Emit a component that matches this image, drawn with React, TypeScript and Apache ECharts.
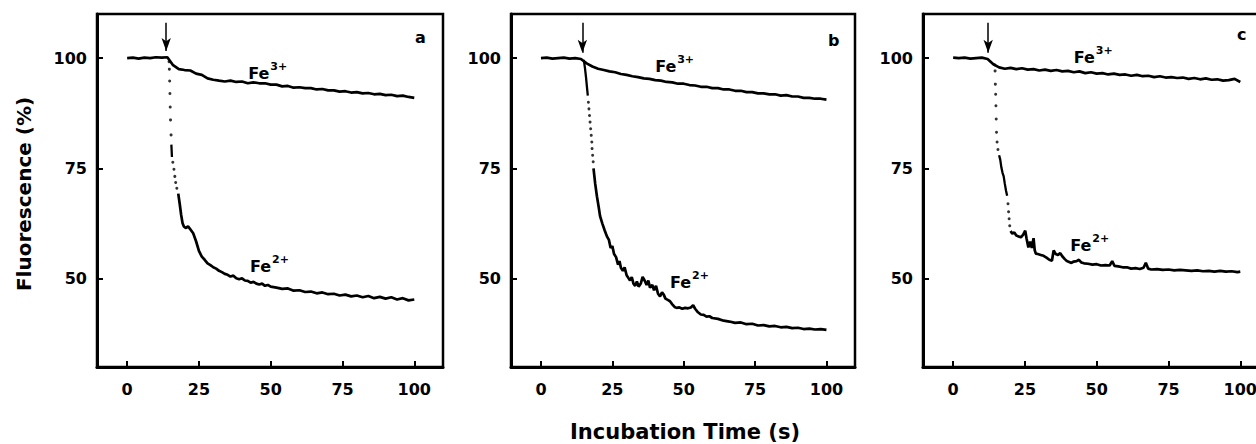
import React, { useEffect, useRef } from "react";
import * as echarts from "echarts";

const FONT = "DejaVu Sans";
const X_TICKS = [0, 25, 50, 75, 100];
const Y_TICKS = [50, 75, 100];
const PANEL_LETTERS = ["a", "b", "c"];

const TIME = [0, 2, 4, 6, 8, 10, 12, 14, 16, 18, 20, 22, 24, 26, 28, 30, 32, 34, 36, 38, 40, 42, 44, 46, 48, 50, 52, 54, 56, 58, 60, 62, 64, 66, 68, 70, 72, 74, 76, 78, 80, 82, 84, 86, 88, 90, 92, 94, 96, 98, 100];

const FE3_A = [100.0, 100.1, 99.9, 100.1, 100.0, 100.2, 100.1, 100.2, 98.4, 97.5, 97.3, 97.2, 96.5, 96.2, 95.4, 95.1, 94.9, 94.7, 94.9, 94.6, 94.7, 94.3, 94.5, 94.3, 94.3, 94.0, 94.0, 93.6, 93.7, 93.3, 93.4, 93.2, 93.2, 92.9, 93.0, 92.7, 92.7, 92.4, 92.5, 92.2, 92.3, 92.0, 92.1, 91.8, 91.9, 91.6, 91.7, 91.4, 91.5, 91.2, 91.0];
const FE3_B = [100.0, 100.1, 99.9, 100.0, 100.1, 99.9, 100.0, 99.8, 98.8, 98.1, 97.6, 97.3, 97.0, 96.8, 96.4, 96.2, 95.9, 95.7, 95.4, 95.3, 95.0, 94.9, 94.6, 94.5, 94.2, 94.2, 93.9, 93.8, 93.5, 93.5, 93.2, 93.2, 92.9, 92.9, 92.6, 92.6, 92.3, 92.3, 92.0, 92.0, 91.8, 91.8, 91.5, 91.6, 91.3, 91.3, 91.0, 91.0, 90.8, 90.8, 90.6];
const FE3_C = [100.1, 100.0, 100.1, 99.9, 100.0, 100.1, 99.8, 98.6, 97.9, 97.6, 97.8, 97.5, 97.7, 97.4, 97.5, 97.2, 97.4, 97.1, 97.3, 97.0, 97.1, 96.8, 97.0, 96.6, 96.8, 96.5, 96.6, 96.3, 96.5, 96.2, 96.3, 96.0, 96.2, 95.9, 96.0, 95.7, 95.9, 95.6, 95.7, 95.5, 95.6, 95.3, 95.5, 95.2, 95.4, 95.1, 95.2, 94.9, 95.0, 95.3, 94.6];

const FE2_A_DOTS = [[14.6, 99.2], [14.7, 97.5], [14.8, 94.8], [14.9, 92.0], [15.0, 88.9], [15.1, 86.0], [15.3, 82.6], [15.9, 76.4], [16.3, 74.8], [16.6, 73.2], [16.9, 71.8], [17.3, 70.5]];
const FE2_A_STUB = [[15.4, 80.4], [15.5, 79.0], [15.6, 77.6]];
const FE2_A_LINE = [[17.8, 69.3], [18.3, 67.0], [18.8, 64.5], [19.3, 62.6], [19.8, 61.8], [20.5, 61.5], [21.2, 61.9], [22.0, 61.2], [23.0, 60.3], [24.0, 58.5], [25.0, 56.3], [26.0, 55.0], [27.0, 54.3], [28.0, 53.5], [29.0, 53.1], [30.0, 52.6], [31.0, 52.3], [32.0, 51.8], [33.0, 51.5], [34.0, 51.1], [35.0, 50.9], [36.0, 50.5], [37.0, 50.7], [38.0, 50.1], [39.0, 49.9], [40.0, 50.1], [41.0, 49.6], [42.0, 49.5], [43.0, 49.1], [44.0, 49.3], [45.0, 48.9], [46.0, 48.7], [47.0, 48.9], [48.0, 48.4], [49.0, 48.6], [50.0, 48.2], [52.0, 48.0], [54.0, 47.7], [56.0, 47.8], [58.0, 47.3], [60.0, 47.4], [62.0, 47.0], [64.0, 47.1], [66.0, 46.7], [68.0, 46.9], [70.0, 46.5], [72.0, 46.6], [74.0, 46.2], [76.0, 46.4], [78.0, 46.0], [80.0, 46.2], [82.0, 45.8], [84.0, 46.1], [86.0, 45.6], [88.0, 45.9], [90.0, 45.5], [92.0, 45.8], [94.0, 45.3], [96.0, 45.6], [98.0, 45.1], [100.0, 45.3]];

const FE2_B_STUB = [[15.0, 99.6], [15.4, 97.8], [15.8, 95.5], [16.1, 93.5], [16.4, 91.5]];
const FE2_B_DOTS = [[16.6, 90.0], [16.8, 88.5], [17.0, 87.0], [17.2, 85.5], [17.4, 84.0], [17.6, 82.5], [17.8, 81.0], [17.9, 79.5], [18.1, 78.0], [18.3, 76.5]];
const FE2_B_LINE = [[18.4, 75.0], [19.0, 71.5], [19.6, 68.7], [20.2, 66.3], [20.7, 64.2], [21.5, 62.5], [22.3, 61.0], [23.1, 59.6], [23.8, 58.8], [24.4, 57.0], [25.0, 57.4], [25.6, 55.6], [26.3, 54.9], [27.0, 53.2], [27.5, 54.0], [28.0, 52.5], [28.7, 51.8], [29.3, 52.6], [30.0, 50.8], [30.6, 50.2], [31.2, 49.6], [31.8, 50.4], [32.4, 48.9], [33.0, 48.4], [33.6, 49.4], [34.2, 48.2], [35.0, 49.0], [35.6, 50.4], [36.3, 49.6], [37.0, 48.6], [37.6, 49.6], [38.2, 48.0], [39.0, 48.6], [39.6, 47.4], [40.3, 48.4], [41.0, 46.6], [41.7, 46.0], [42.4, 46.9], [43.0, 46.4], [43.6, 45.5], [44.4, 45.2], [45.2, 44.9], [46.0, 44.2], [46.8, 43.6], [47.5, 43.4], [48.5, 43.5], [49.5, 43.2], [50.5, 43.4], [51.5, 43.3], [52.5, 43.5], [53.3, 44.0], [54.0, 43.2], [55.0, 42.4], [56.0, 41.9], [57.0, 41.8], [58.0, 41.4], [59.0, 41.5], [60.0, 41.1], [62.0, 40.9], [64.0, 40.5], [66.0, 40.3], [68.0, 40.0], [70.0, 40.1], [72.0, 39.7], [74.0, 39.8], [76.0, 39.4], [78.0, 39.5], [80.0, 39.2], [82.0, 39.3], [84.0, 39.0], [86.0, 39.1], [88.0, 38.8], [90.0, 38.9], [92.0, 38.6], [94.0, 38.7], [96.0, 38.5], [98.0, 38.6], [100.0, 38.4]];

const FE2_C_DOTS = [[14.4, 98.5], [14.6, 97.1], [14.7, 94.1], [14.8, 91.8], [14.9, 89.2], [15.0, 86.2], [15.1, 83.2], [15.3, 81.0], [15.6, 79.3], [19.1, 67.0], [19.3, 65.2], [19.5, 63.6], [19.7, 62.0]];
const FE2_C_STUB = [[16.0, 78.0], [16.4, 77.0], [16.8, 75.2], [17.2, 74.0], [17.6, 73.2], [18.0, 71.5], [18.4, 70.0], [18.8, 68.8]];
const FE2_C_LINE = [[20.0, 60.8], [20.6, 60.2], [21.3, 60.5], [22.0, 59.8], [22.8, 59.6], [23.6, 59.4], [24.4, 60.0], [25.1, 60.9], [25.6, 59.0], [26.2, 57.1], [26.8, 58.4], [27.4, 57.0], [28.0, 59.2], [28.4, 56.5], [28.8, 55.7], [29.5, 55.6], [30.5, 55.4], [31.5, 55.2], [32.5, 54.8], [33.5, 54.3], [34.4, 54.1], [35.0, 56.4], [35.7, 55.6], [36.5, 55.4], [37.3, 55.8], [38.0, 55.1], [38.8, 54.5], [39.6, 54.0], [40.4, 53.8], [41.2, 53.6], [42.0, 53.9], [43.0, 54.0], [43.8, 54.3], [44.6, 53.7], [45.6, 53.5], [47.0, 53.4], [48.5, 53.2], [50.0, 53.3], [51.5, 53.0], [53.0, 53.1], [54.5, 53.0], [55.4, 54.0], [56.2, 52.9], [57.5, 52.8], [59.0, 52.6], [60.5, 52.6], [62.0, 52.3], [63.5, 52.4], [65.0, 52.2], [66.3, 52.5], [67.1, 53.6], [67.9, 52.3], [69.0, 52.1], [71.0, 52.2], [73.0, 52.0], [75.0, 52.1], [77.0, 51.9], [79.0, 52.0], [81.0, 51.9], [83.0, 51.8], [85.0, 51.9], [87.0, 51.7], [89.0, 51.8], [91.0, 51.6], [93.0, 51.8], [95.0, 51.6], [97.0, 51.7], [99.0, 51.5], [100.0, 51.6]];

const ARROW_T = [13.6, 14.5, 12.2];
const ARROW_FROM = [108, 108, 108];
const ARROW_TO = [101.6, 101.2, 101.2];

// label anchors (left edge, vertical middle) in data coords
const LABELS = [
  { panel: 0, t: 42.2, v: 96.6, sup: "3+" },
  { panel: 0, t: 42.8, v: 52.7, sup: "2+" },
  { panel: 1, t: 40.0, v: 98.1, sup: "3+" },
  { panel: 1, t: 45.2, v: 49.1, sup: "2+" },
  { panel: 2, t: 42.0, v: 100.1, sup: "3+" },
  { panel: 2, t: 40.8, v: 57.5, sup: "2+" },
];

const PANELS = [
  { fe3: FE3_A, dots: FE2_A_DOTS, stub: FE2_A_STUB, line: FE2_A_LINE },
  { fe3: FE3_B, dots: FE2_B_DOTS, stub: FE2_B_STUB, line: FE2_B_LINE },
  { fe3: FE3_C, dots: FE2_C_DOTS, stub: FE2_C_STUB, line: FE2_C_LINE },
];

const GRID_LEFT = [97, 511, 923];
const GRID_WIDTH = [346, 344, 346];

export default function App() {
  const ref = useRef<HTMLDivElement>(null);
  useEffect(() => {
    if (!ref.current) return;
    const chart = echarts.init(ref.current, undefined, { renderer: "svg" });
    const black = "#000";
    const lineW = 2.7;
    const grids = GRID_LEFT.map((l, i) => ({
      left: l,
      top: 14,
      width: GRID_WIDTH[i],
      height: 353,
      show: true,
      borderColor: black,
      borderWidth: 2.5,
      backgroundColor: "transparent",
      containLabel: false,
      outerBoundsMode: "none",
    }));
    const xAxes = PANELS.map((_, i) => ({
      gridIndex: i,
      type: "value",
      min: -10.5,
      max: 110,
      splitLine: { show: false },
      axisLine: { show: true, onZero: false, lineStyle: { color: black, width: 3 } },
      axisTick: { show: true, inside: true, length: 6, lineStyle: { color: black, width: 2 }, customValues: X_TICKS },
      axisLabel: { customValues: X_TICKS, color: black, fontFamily: FONT, fontWeight: "bold", fontSize: 16, margin: 14 },
    }));
    const yAxes = PANELS.map((_, i) => ({
      gridIndex: i,
      type: "value",
      min: 30,
      max: 110,
      splitLine: { show: false },
      axisLine: { show: true, onZero: false, lineStyle: { color: black, width: 3 } },
      axisTick: { show: true, inside: true, length: 6, lineStyle: { color: black, width: 2 }, customValues: Y_TICKS },
      axisLabel: { customValues: Y_TICKS, color: black, fontFamily: FONT, fontWeight: "bold", fontSize: 16, margin: 10 },
    }));
    const series: any[] = [];
    PANELS.forEach((p, i) => {
      series.push({
        type: "line",
        xAxisIndex: i,
        yAxisIndex: i,
        data: TIME.map((t, k) => [t, p.fe3[k]]),
        showSymbol: false,
        lineStyle: { color: black, width: lineW },
        silent: true,
        markLine: {
          silent: true,
          symbol: ["none", "arrow"],
          symbolSize: [7, 13],
          label: { show: false },
          lineStyle: { color: black, width: 1.5, type: "solid" },
          itemStyle: { color: black },
          data: [[{ coord: [ARROW_T[i], ARROW_FROM[i]] }, { coord: [ARROW_T[i], ARROW_TO[i]] }]],
        },
      });
      series.push({
        type: "line",
        xAxisIndex: i,
        yAxisIndex: i,
        data: p.stub,
        showSymbol: false,
        lineStyle: { color: black, width: lineW - 0.4 },
        silent: true,
      });
      series.push({
        type: "line",
        xAxisIndex: i,
        yAxisIndex: i,
        data: p.line,
        showSymbol: false,
        lineStyle: { color: black, width: lineW },
        silent: true,
      });
      series.push({
        type: "scatter",
        xAxisIndex: i,
        yAxisIndex: i,
        data: p.dots,
        symbol: "circle",
        symbolSize: 3,
        itemStyle: { color: black },
        silent: true,
      });
    });
    chart.setOption({
      animation: false,
      backgroundColor: "#fff",
      grid: grids,
      xAxis: xAxes,
      yAxis: yAxes,
      series,
    });

    const txt = (x: number, y: number, text: string, size: number, extra: any = {}) => ({
      type: "text",
      x,
      y,
      silent: true,
      ...extra,
      style: {
        text,
        fill: black,
        font: `bold ${size}px "${FONT}"`,
        align: extra.align || "left",
        verticalAlign: "middle",
      },
    });

    const graphics: any[] = [];
    graphics.push(txt(415, 37, PANEL_LETTERS[0], 16));
    graphics.push(txt(828, 40, PANEL_LETTERS[1], 16));
    graphics.push(txt(1237, 34, PANEL_LETTERS[2], 16));
    graphics.push(txt(685, 432, "Incubation Time (s)", 21, { align: "center" }));
    graphics.push(txt(24, 194, "Fluorescence (%)", 20, { align: "center", rotation: Math.PI / 2 }));
    LABELS.forEach((l) => {
      const pt = chart.convertToPixel({ gridIndex: l.panel } as any, [l.t, l.v]) as number[];
      graphics.push(txt(pt[0], pt[1], "Fe", 16));
      graphics.push(txt(pt[0] + 22, pt[1] - 7, l.sup, 11));
    });
    chart.setOption({ graphic: graphics });

    return () => chart.dispose();
  }, []);
  return (
    <div
      ref={ref}
      style={{ position: "absolute", left: 0, top: 0, width: 1256, height: 444, background: "#fff" }}
    />
  );
}
